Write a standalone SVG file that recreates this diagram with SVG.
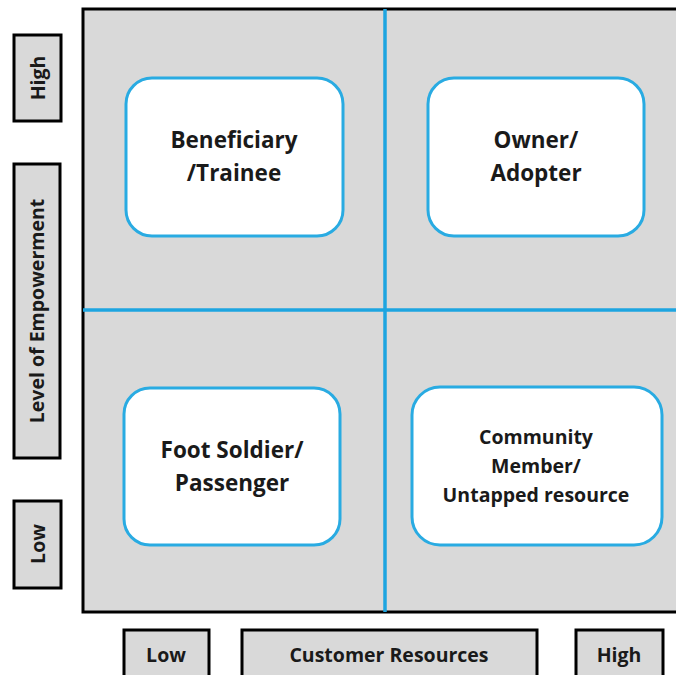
<svg xmlns="http://www.w3.org/2000/svg" width="676" height="675" viewBox="0 0 676 675">
<style>
.lab{fill:#d9d9d9;stroke:#000;stroke-width:3}
.node{fill:#fff;stroke:#29abe2;stroke-width:3}
.div{stroke:#1ea5e0;stroke-width:3.5}
text{font-family:"Open Sans","Liberation Sans",sans-serif;font-weight:bold;fill:#1a1a1a;text-anchor:middle}
.t{font-size:22.5px}
.s{font-size:19.5px}
.a{font-size:19.5px}
</style>
<rect width="676" height="675" fill="#fff"/>
<rect x="83" y="9" width="600" height="603" fill="#d9d9d9" stroke="#000" stroke-width="3"/>
<g id="connectors">
<line class="div" x1="385" y1="9" x2="385" y2="612"/>
<line class="div" x1="83" y1="310" x2="676" y2="310"/>
</g>
<g id="y-high"><rect class="lab" x="14" y="35" width="47" height="86"/><text class="a" transform="translate(45,78) rotate(-90)">High</text></g>
<g id="y-axis"><rect class="lab" x="14" y="164" width="46" height="294"/><text class="a" transform="translate(44,311) rotate(-90)">Level of Empowerment</text></g>
<g id="y-low"><rect class="lab" x="14" y="501" width="47" height="87"/><text class="a" transform="translate(45,544) rotate(-90)">Low</text></g>
<g id="x-low"><rect class="lab" x="124" y="630" width="85" height="50"/><text class="a" x="166" y="662">Low</text></g>
<g id="x-axis"><rect class="lab" x="242" y="630" width="295" height="50"/><text class="a" x="389" y="662">Customer Resources</text></g>
<g id="x-high"><rect class="lab" x="576" y="630" width="87" height="50"/><text class="a" x="619" y="662">High</text></g>
<g id="beneficiary"><rect class="node" x="126" y="78" width="217" height="158" rx="26"/><text class="t" x="234" y="148">Beneficiary</text><text class="t" x="234" y="181">/Trainee</text></g>
<g id="owner"><rect class="node" x="428" y="78" width="216" height="158" rx="26"/><text class="t" x="536" y="148">Owner/</text><text class="t" x="536" y="181">Adopter</text></g>
<g id="foot-soldier"><rect class="node" x="124" y="388" width="216" height="157" rx="26"/><text class="t" x="232" y="458">Foot Soldier/</text><text class="t" x="232" y="491">Passenger</text></g>
<g id="community"><rect class="node" x="412" y="387" width="250" height="158" rx="28"/><text class="s" x="536" y="444">Community</text><text class="s" x="536" y="473">Member/</text><text class="s" x="536" y="502">Untapped resource</text></g>
</svg>
